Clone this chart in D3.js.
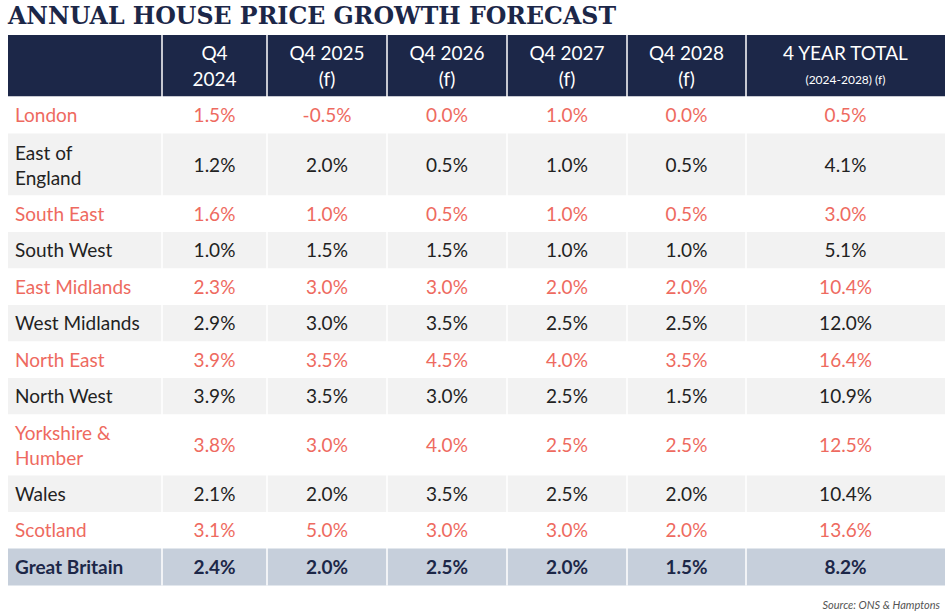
<!DOCTYPE html>
<html><head><meta charset="utf-8">
<script src="https://cdn.jsdelivr.net/npm/d3@7"></script>
<style>body{margin:0;background:#fff}</style></head>
<body><svg id="c" width="948" height="615"></svg>
<script>
const headers=[["",""],["Q4","2024"],["Q4 2025","(f)"],["Q4 2026","(f)"],["Q4 2027","(f)"],["Q4 2028","(f)"],["4 YEAR TOTAL","(2024-2028) (f)"]];
const regions=[["London"],["East of","England"],["South East"],["South West"],["East Midlands"],["West Midlands"],["North East"],["North West"],["Yorkshire &","Humber"],["Wales"],["Scotland"],["Great Britain"]];
const values=[
["1.5%","-0.5%","0.0%","1.0%","0.0%","0.5%"],
["1.2%","2.0%","0.5%","1.0%","0.5%","4.1%"],
["1.6%","1.0%","0.5%","1.0%","0.5%","3.0%"],
["1.0%","1.5%","1.5%","1.0%","1.0%","5.1%"],
["2.3%","3.0%","3.0%","2.0%","2.0%","10.4%"],
["2.9%","3.0%","3.5%","2.5%","2.5%","12.0%"],
["3.9%","3.5%","4.5%","4.0%","3.5%","16.4%"],
["3.9%","3.5%","3.0%","2.5%","1.5%","10.9%"],
["3.8%","3.0%","4.0%","2.5%","2.5%","12.5%"],
["2.1%","2.0%","3.5%","2.5%","2.0%","10.4%"],
["3.1%","5.0%","3.0%","3.0%","2.0%","13.6%"],
["2.4%","2.0%","2.5%","2.0%","1.5%","8.2%"]];
const svg=d3.select("#c");
const colEdges=[8,162,267,387,507,627,746,945];
const rowH=[36.5,62,36.5,36.5,36.5,36.5,36.5,36.5,61,36.5,36.5,37];
const font="Lato, 'Open Sans', sans-serif";
svg.append("text").attr("x",8).attr("y",24).attr("font-family","'DejaVu Serif',serif").attr("font-weight","bold")
 .attr("font-size",25).attr("fill","#1c2748").attr("textLength",608).attr("lengthAdjust","spacingAndGlyphs").text("ANNUAL HOUSE PRICE GROWTH FORECAST");
// header
svg.append("rect").attr("x",8).attr("y",35).attr("width",937).attr("height",62).attr("fill","#1c2748");
headers.forEach((h,i)=>{
 if(i==0)return;
 const cx=(colEdges[i]+colEdges[i+1])/2;
 svg.append("text").attr("x",cx).attr("y",60).attr("text-anchor","middle").attr("font-family",font).attr("font-size",19).attr("fill","#fff").text(h[0]);
 svg.append("text").attr("x",cx).attr("y",i==6?84:86).attr("text-anchor","middle").attr("font-family",font).attr("font-size",i==6?12:19).attr("fill","#fff").text(h[1]);
});
let y=97;
regions.forEach((r,i)=>{
 const h=rowH[i], gb=i==11;
 const odd=i%2==0;
 const bg=gb?"#c6cfdb":(odd?"#ffffff":"#f2f2f2");
 const fg=gb?"#1c2748":(odd?"#ee6a60":"#222");
 svg.append("rect").attr("x",8).attr("y",y).attr("width",937).attr("height",h).attr("fill",bg);
 const mid=y+h/2;
 r.forEach((line,k)=>{
  svg.append("text").attr("x",15).attr("y",mid+7+(r.length==2?(k==0?-12:13):0)).attr("font-family",font)
   .attr("font-size",19).attr("font-weight",gb?"bold":"normal").attr("fill",fg).text(line);
 });
 values[i].forEach((v,j)=>{
  const cx=(colEdges[j+1]+colEdges[j+2])/2;
  svg.append("text").attr("x",cx).attr("y",mid+7).attr("text-anchor","middle").attr("font-family",font)
   .attr("font-size",19).attr("font-weight",gb?"bold":"normal").attr("fill",fg).text(v);
 });
 y+=h;
});
// grid lines
colEdges.slice(1,-1).forEach(x=>svg.append("line").attr("x1",x).attr("x2",x).attr("y1",35).attr("y2",y).attr("stroke","#fff").attr("stroke-width",1.5));
svg.append("line").attr("x1",8).attr("x2",945).attr("y1",97).attr("y2",97).attr("stroke","#fff").attr("stroke-width",1.5);
svg.append("text").attr("x",940).attr("y",609).attr("text-anchor","end").attr("font-family",font).attr("font-style","italic")
 .attr("font-size",11).attr("fill","#555").text("Source: ONS & Hamptons");
</script></body></html>
